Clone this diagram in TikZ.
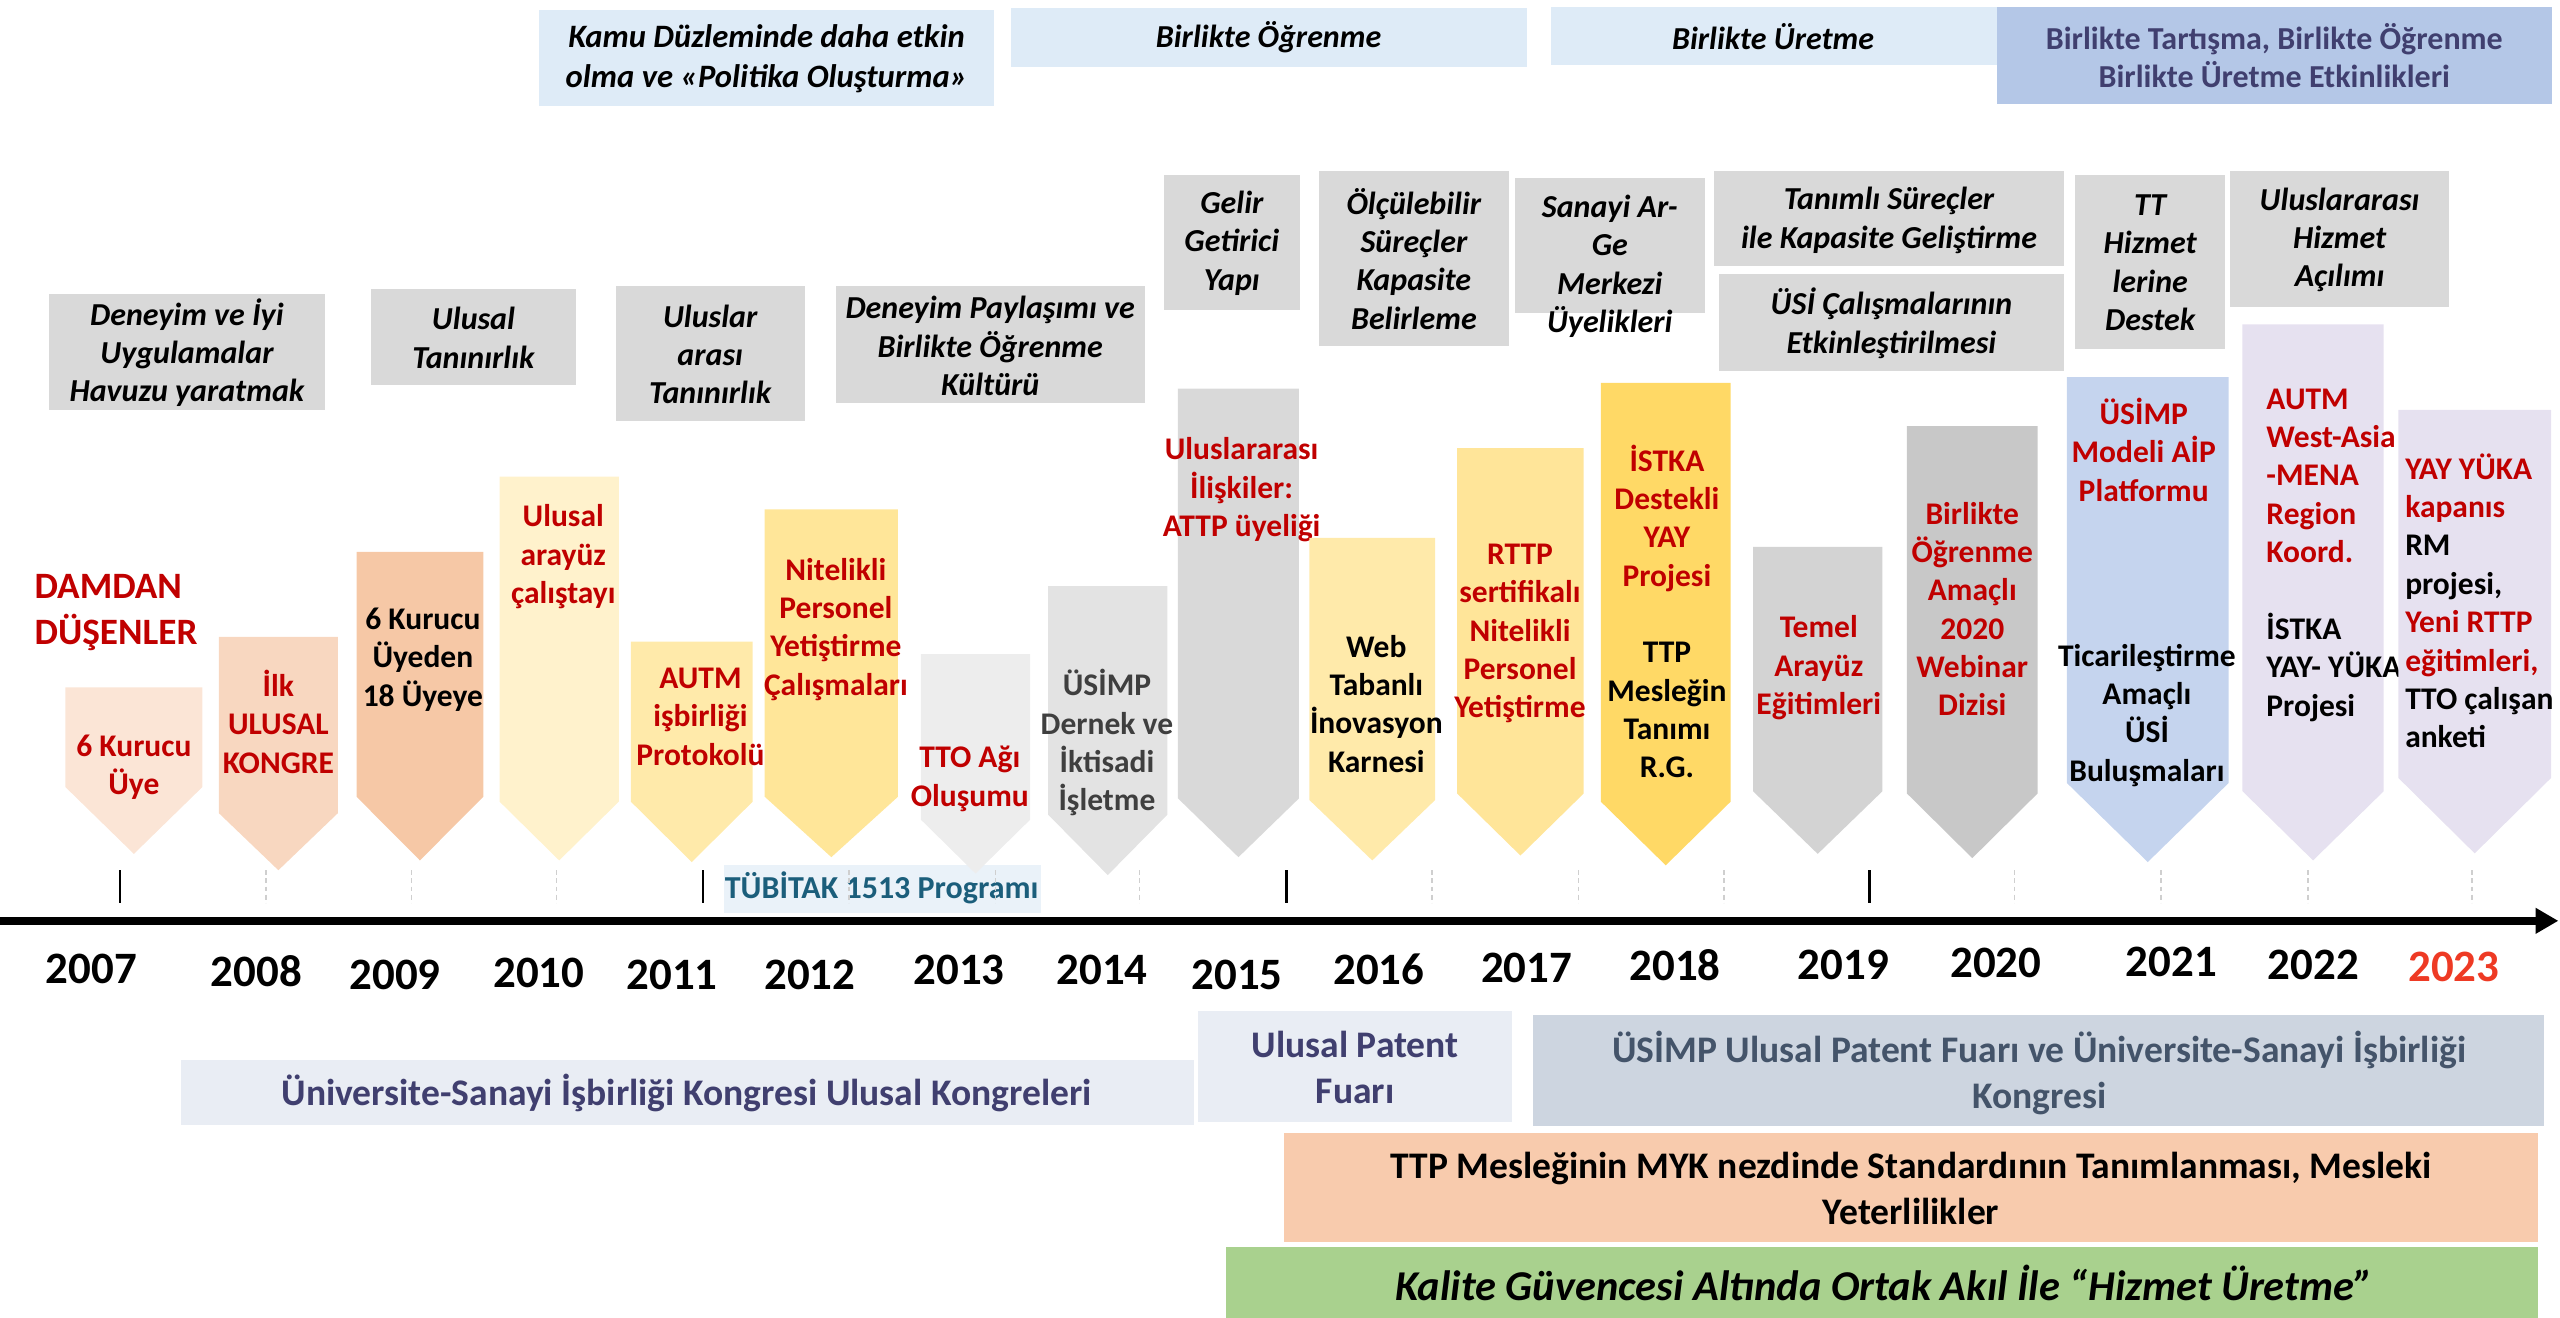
\documentclass[tikz,border=0pt]{standalone}
\usepackage{fontspec}
\setmainfont{Carlito}
\usetikzlibrary{arrows.meta}
\definecolor{ured}{HTML}{C00000}
\definecolor{lblue}{HTML}{DEEBF7}
\definecolor{mblue}{HTML}{B4C7E7}
\definecolor{gbox}{HTML}{D9D9D9}
\definecolor{a07}{HTML}{FBE5D6}
\definecolor{a08}{HTML}{F8D7C0}
\definecolor{a09}{HTML}{F6C8A6}
\definecolor{a10}{HTML}{FFF2CC}
\definecolor{a11}{HTML}{FFEAAA}
\definecolor{a12}{HTML}{FFE699}
\definecolor{a13}{HTML}{EDEDED}
\definecolor{a14}{HTML}{E3E3E3}
\definecolor{a15}{HTML}{D9D9D9}
\definecolor{a16}{HTML}{FFEAAA}
\definecolor{a17}{HTML}{FFE599}
\definecolor{a18}{HTML}{FFD966}
\definecolor{a19}{HTML}{D3D3D3}
\definecolor{a20}{HTML}{C8C8C8}
\definecolor{a21}{HTML}{C5D4EE}
\definecolor{a22}{HTML}{E6E1F0}
\definecolor{tub}{HTML}{EAF2F9}
\definecolor{tubtext}{HTML}{1B5E7B}
\definecolor{pale}{HTML}{E9EDF4}
\definecolor{grayblue}{HTML}{CDD5E0}
\definecolor{peach}{HTML}{F8CBAD}
\definecolor{lgreen}{HTML}{A9D18E}
\definecolor{yr23}{HTML}{EE3A24}
\definecolor{slate}{HTML}{44546A}
\definecolor{indig}{HTML}{403F6F}
\definecolor{dgray}{HTML}{3F3F3F}
\definecolor{tickgray}{HTML}{CFCFCF}
\newcommand\fsz[2]{\fontsize{#1}{#2}\selectfont}
\newcommand\pent[6]{\fill[#6] (#1,#3) -- (#2,#3) -- (#2,#4) -- ({(#1+#2)/2},#5) -- (#1,#4) -- cycle;}
\tikzset{
  itx/.style={align=center, inner sep=0pt, font=\fsz{19.6}{23.5}\bfseries\itshape},
  atx/.style={align=center, inner sep=0pt, font=\fsz{19.3}{23.5}\bfseries},
  atxl/.style={align=left, anchor=west, inner sep=0pt, font=\fsz{19.3}{23.5}\bfseries},
  toptx/.style={align=center, inner sep=0pt, font=\fsz{19.6}{23.5}\bfseries},
  bottx/.style={align=center, inner sep=0pt, font=\fsz{23}{28}\bfseries},
  yr/.style={inner sep=0pt, font=\fsz{27.5}{30}\bfseries},
  soltick/.style={line width=1.5pt, black},
  dashtick/.style={line width=0.8pt, tickgray, dashed, dash pattern=on 3pt off 2pt},
}
\begin{document}
\begin{tikzpicture}[x=1pt,y=-1pt]
\useasboundingbox (0,0) rectangle (1568,807);

% ---- top band
\fill[lblue] (330,6) rectangle (609,65);
\node[itx, font=\fsz{20}{24.5}\bfseries\itshape] (kamu) at (469.5,36) {Kamu Düzleminde daha etkin\\olma ve «Politika Oluşturma»};
\fill[lblue] (619,5) rectangle (935,41);
\node[itx] (bogren) at (777,23) {Birlikte Öğrenme};
\fill[lblue] (950,4) rectangle (1223,40);
\node[itx] (buret) at (1086,22.5) {Birlikte Üretme};
\fill[mblue] (1223,4) rectangle (1563,64);
\node[toptx,text=indig] (btart) at (1393,34) {Birlikte Tartışma, Birlikte Öğrenme\\Birlikte Üretme Etkinlikleri};

% ---- gray boxes
\fill[gbox] (30,180) rectangle (199,251);
\node[itx] (g1) at (114.5,216) {Deneyim ve İyi\\Uygulamalar\\Havuzu yaratmak};
\fill[gbox] (227,177) rectangle (353,236);
\node[itx] (g2) at (290,207) {Ulusal\\Tanınırlık};
\fill[gbox] (377,175) rectangle (493,258);
\node[itx] (g3) at (435,217) {Uluslar\\arası\\Tanınırlık};
\fill[gbox] (512,175) rectangle (701,247);
\node[itx] (g4) at (606.5,212) {Deneyim Paylaşımı ve\\Birlikte Öğrenme\\Kültürü};
\fill[gbox] (713,107) rectangle (796,190);
\node[itx] (g5) at (754.5,149) {Gelir\\Getirici\\Yapı};
\fill[gbox] (808,105) rectangle (924,212);
\node[itx] (g6) at (866,158.5) {Ölçülebilir\\Süreçler\\Kapasite\\Belirleme};
\fill[gbox] (928,109) rectangle (1044,192);
\node[itx] (g7) at (986,163) {Sanayi Ar-\\Ge\\Merkezi\\Üyelikleri};
\fill[gbox] (1050,105) rectangle (1264,163);
\node[itx] (g8) at (1157,135) {Tanımlı Süreçler\\ile Kapasite Geliştirme};
\fill[gbox] (1053,168) rectangle (1264,227);
\node[itx] (g9) at (1158.5,198) {ÜSİ Çalışmalarının\\Etkinleştirilmesi};
\fill[gbox] (1271,107) rectangle (1363,214);
\node[itx] (g10) at (1317,161) {TT\\Hizmet\\lerine\\Destek};
\fill[gbox] (1366,105) rectangle (1500,188);
\node[itx] (g11) at (1433,147) {Uluslararası\\Hizmet\\Açılımı};

% ---- TUBITAK
\fill[tub] (443.5,530) rectangle (637.5,559);
\node[inner sep=0pt, font=\fsz{19.6}{22}\bfseries, text=tubtext] (tubitak) at (540,544) {TÜBİTAK 1513 Programı};

% ---- DAMDAN
\node[align=left, anchor=west, inner sep=0pt, font=\fsz{22.8}{28}\bfseries, text=ured] (damdan) at (21,375) {DAMDAN\\DÜŞENLER};

% ---- year arrows
\pent{40}{124}{421}{482}{523}{a07}
\node[atx,text=ured] (y07) at (82,470) {6 Kurucu\\Üye};
\pent{134}{207}{390}{498}{533}{a08}
\node[atx,text=ured] (y08) at (170.5,442) {İlk\\ULUSAL\\KONGRE};
\pent{218.4}{296}{338}{488}{527}{a09}
\node[atx] (y09) at (259,404) {6 Kurucu\\Üyeden\\18 Üyeye};
\pent{306}{379}{292}{491}{527}{a10}
\node[atx,text=ured] (y10) at (345,341) {Ulusal\\arayüz\\çalıştayı};
\pent{386.4}{461}{393}{491}{528}{a11}
\node[atx,text=ured] (y11) at (429,439) {AUTM\\işbirliği\\Protokolü};
\pent{468.4}{550}{312}{488}{525}{a12}
\node[atx,text=ured] (y12) at (512,385.5) {Nitelikli\\Personel\\Yetiştirme\\Çalışmaları};
\pent{564}{631}{400.6}{502}{535}{a13}
\node[atx,text=ured] (y13) at (594,477) {TTO Ağı\\Oluşumu};
\pent{642}{715}{359}{499}{536}{a14}
\node[atx,text=dgray] (y14) at (678,455) {ÜSİMP\\Dernek ve\\İktisadi\\İşletme};
\pent{721.5}{795.6}{238}{489}{525}{a15}
\node[atx,text=ured] (y15) at (760.5,300) {Uluslararası\\İlişkiler:\\ATTP üyeliği};
\pent{802}{879}{329.5}{490}{527}{a16}
\node[atx] (y16) at (843,431) {Web\\Tabanlı\\İnovasyon\\Karnesi};
\pent{892.5}{970}{274.4}{486}{524}{a17}
\node[atx,text=ured] (y17) at (931,388) {RTTP\\sertifikalı\\Nitelikli\\Personel\\Yetiştirme};
\pent{980.5}{1060}{234.5}{491}{530}{a18}
\node[atx] (y18) at (1021,374.5) {\textcolor{ured}{İSTKA}\\\textcolor{ured}{Destekli}\\\textcolor{ured}{YAY}\\\textcolor{ured}{Projesi}\\[23.5pt]TTP\\Mesleğin\\Tanımı\\R.G.};
\pent{1073.7}{1153}{335}{484.6}{523}{a19}
\node[atx,text=ured] (y19) at (1114,409) {Temel\\Arayüz\\Eğitimleri};
\pent{1168}{1248}{261}{486}{525.6}{a20}
\node[atx,text=ured] (y20) at (1208,373) {Birlikte\\Öğrenme\\Amaçlı\\2020\\Webinar\\Dizisi};
\pent{1266}{1365}{231}{479.6}{528}{a21}
\node[atx,text=ured] (y21a) at (1313,275.5) {ÜSİMP\\Modeli AİP\\Platformu};
\node[atx] (y21b) at (1315,438) {Ticarileştirme\\Amaçlı\\ÜSİ\\Buluşmaları};
\pent{1373.5}{1460}{198.7}{484.6}{527}{a22}
\node[atxl] (y22) at (1388,340) {\textcolor{ured}{AUTM}\\\textcolor{ured}{West-Asia}\\\textcolor{ured}{-MENA}\\\textcolor{ured}{Region}\\\textcolor{ured}{Koord.}\\[23.5pt]İSTKA\\YAY- YÜKA\\Projesi};
\pent{1469}{1562.5}{251}{476.5}{522.7}{a22}
\node[atxl] (y23) at (1473,368) {\textcolor{ured}{YAY YÜKA}\\\textcolor{ured}{kapanıs}\\RM\\projesi,\\\textcolor{ured}{Yeni RTTP}\\\textcolor{ured}{eğitimleri,}\\TTO çalışan\\anketi};

% ---- ticks
\foreach \tx in {73.5,430.5,788,1145} {\draw[soltick] (\tx,533) -- (\tx,553);}
\foreach \tx in {163,252,341,520,609.6,698,877,966.7,1056,1234,1323.6,1413.6,1514} {\draw[dashtick] (\tx,533) -- (\tx,553);}

% ---- axis
\coordinate (axL) at (0,564);
\coordinate (axR) at (1567,564);
\draw[line width=5pt, -{Triangle[length=14pt,width=15pt]}] (axL) -- (axR);

% ---- years
\node[yr] (yr07) at (56,593.5) {2007};
\node[yr] (yr08) at (157,595) {2008};
\node[yr] (yr09) at (242,597) {2009};
\node[yr] (yr10) at (330,596) {2010};
\node[yr] (yr11) at (411.6,597) {2011};
\node[yr] (yr12) at (496,597) {2012};
\node[yr] (yr13) at (587.5,594) {2013};
\node[yr] (yr14) at (675,594) {2014};
\node[yr] (yr15) at (757.7,597) {2015};
\node[yr] (yr16) at (844.6,594) {2016};
\node[yr] (yr17) at (935,593) {2017};
\node[yr] (yr18) at (1026,591) {2018};
\node[yr] (yr19) at (1129,591) {2019};
\node[yr] (yr20) at (1222.5,589.6) {2020};
\node[yr] (yr21) at (1330,589) {2021};
\node[yr] (yr22) at (1417,591) {2022};
\node[yr,text=yr23] (yr23n) at (1503,592) {2023};

% ---- bottom boxes
\fill[pale] (111,649) rectangle (731.5,689);
\node[bottx,text=indig] (kong) at (420.5,669.5) {Üniversite-Sanayi İşbirliği Kongresi Ulusal Kongreleri};
\fill[pale] (734,619) rectangle (926,687);
\node[bottx,text=indig] (patent) at (830,654) {Ulusal Patent\\Fuarı};
\fill[grayblue] (939,621.7) rectangle (1558,689.6);
\node[bottx,text=slate] (usimp) at (1249,657) {ÜSİMP Ulusal Patent Fuarı ve Üniversite-Sanayi İşbirliği\\Kongresi};
\fill[peach] (786.6,694) rectangle (1554.5,761);
\node[bottx] (ttp) at (1170.5,728) {TTP Mesleğinin MYK nezdinde Standardının Tanımlanması, Mesleki\\Yeterlilikler};
\fill[lgreen] (751,763.6) rectangle (1554.5,807);
\node[inner sep=0pt, font=\fsz{26}{30}\bfseries\itshape] (kalite) at (1154,786) {Kalite Güvencesi Altında Ortak Akıl İle “Hizmet Üretme”};
\end{tikzpicture}
\end{document}
